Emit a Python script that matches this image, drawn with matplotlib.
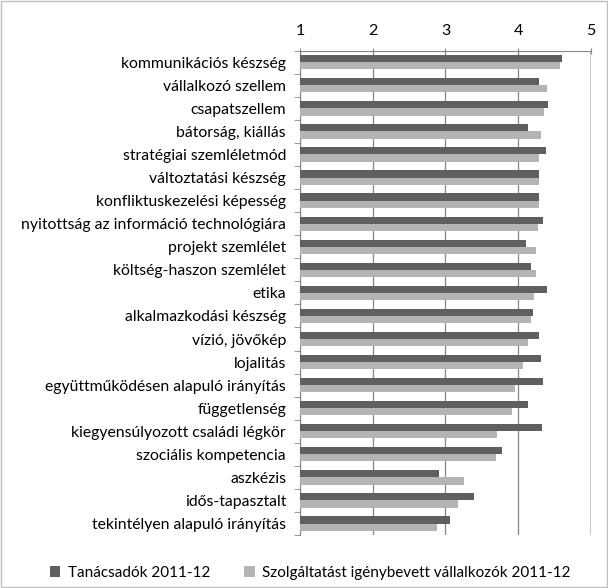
import matplotlib.pyplot as plt
import numpy as np
from matplotlib.patches import Rectangle

plt.rcParams['font.family'] = ['Lato', 'DejaVu Sans']

categories = [
    "kommunikációs készség", "vállalkozó szellem", "csapatszellem",
    "bátorság, kiállás", "stratégiai szemléletmód", "változtatási készség",
    "konfliktuskezelési képesség", "nyitottság az információ technológiára",
    "projekt szemlélet", "költség-haszon szemlélet", "etika",
    "alkalmazkodási készség", "vízió, jövőkép", "lojalitás",
    "együttműködésen alapuló irányítás", "függetlenség",
    "kiegyensúlyozott családi légkör", "szociális kompetencia", "aszkézis",
    "idős-tapasztalt", "tekintélyen alapuló irányítás",
]
tanacsadok = [4.60, 4.28, 4.41, 4.14, 4.38, 4.28, 4.28, 4.34, 4.10, 4.17, 4.39,
              4.20, 4.29, 4.31, 4.34, 4.14, 4.32, 3.78, 2.91, 3.39, 3.06]
vallalkozok = [4.57, 4.39, 4.36, 4.31, 4.29, 4.29, 4.28, 4.27, 4.25, 4.25, 4.22,
               4.17, 4.14, 4.06, 3.95, 3.91, 3.71, 3.70, 3.26, 3.17, 2.88]
series_names = ["Tanácsadók 2011-12", "Szolgáltatást igénybevett vállalkozók 2011-12"]

fig = plt.figure(figsize=(6.08, 5.88), dpi=100)
ax = fig.add_axes([0.4934, 0.090, 0.4786, 0.8238])

y = np.arange(len(categories))
h = 0.31
base = 1
ax.barh(y - h / 2, np.array(tanacsadok) - base, left=base, height=h,
        color="#5f5f5f", label=series_names[0], zorder=3)
ax.barh(y + h / 2, np.array(vallalkozok) - base, left=base, height=h,
        color="#b4b4b4", label=series_names[1], zorder=3)

ax.set_xlim(1, 5)
ax.set_ylim(len(categories) - 0.5, -0.5)
ax.xaxis.tick_top()
ax.set_xticks([1, 2, 3, 4, 5])
ax.tick_params(axis='x', length=4, color="#868686", labelsize=11.5, pad=7,
               direction='inout')
ax.grid(axis='x', color="#868686", linewidth=0.9, zorder=0)
# Excel draws the last gridline lighter
ax.get_xgridlines()[-1].set_color("#c8c8c8")
ax.get_xgridlines()[-1].set_linewidth(1.5)

ax.set_yticks(y)
ax.set_yticklabels(categories, fontsize=11.3)
ax.tick_params(axis='y', length=0, pad=10)
ax.set_yticks(np.arange(-0.5, len(categories), 1), minor=True)
ax.tick_params(axis='y', which='minor', length=4, color="#868686")

for s in ['right', 'bottom']:
    ax.spines[s].set_visible(False)
for s in ['top', 'left']:
    ax.spines[s].set_color("#868686")

ax.legend(loc='upper center', bbox_to_anchor=(0.51, 0.061),
          bbox_transform=fig.transFigure, ncol=2, frameon=False,
          fontsize=11, handlelength=0.7, handleheight=0.7,
          columnspacing=2.2, handletextpad=0.5)

fig.patches.append(Rectangle((0.002, 0.002), 0.996, 0.996, transform=fig.transFigure,
                             fill=False, edgecolor="#bfbfbf", linewidth=1))

fig.savefig("out.png", dpi=100)
